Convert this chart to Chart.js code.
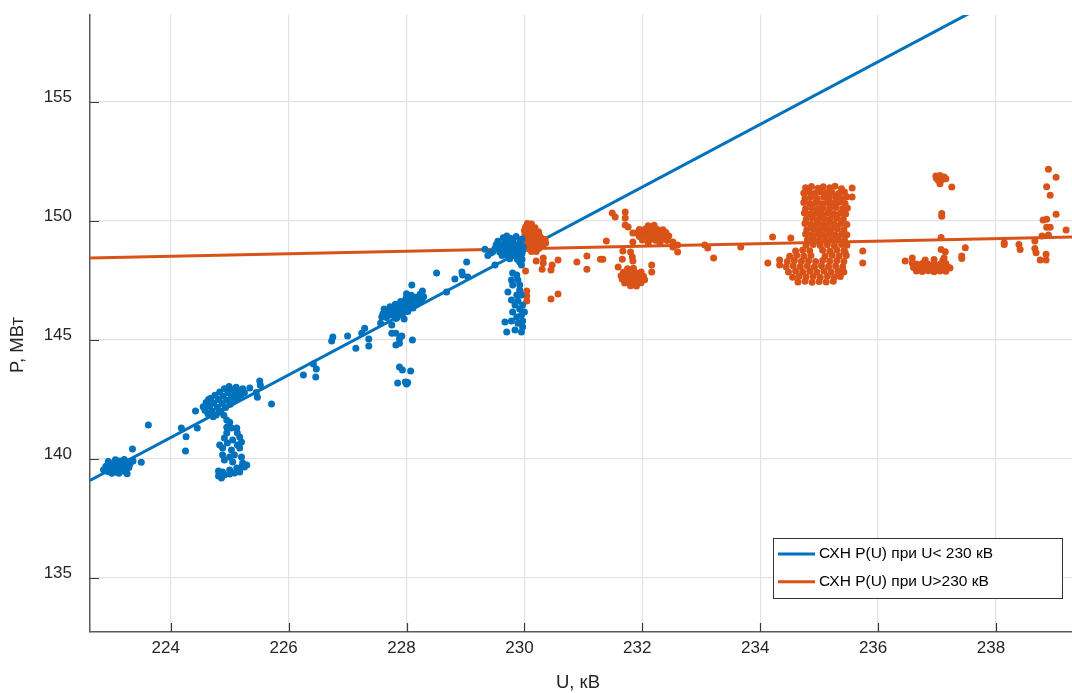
<!DOCTYPE html>
<html>
<head>
<meta charset="utf-8">
<script src="https://cdn.jsdelivr.net/npm/chart.js@4/dist/chart.umd.min.js"></script>
<style>
  html, body { margin: 0; padding: 0; background: #fff; }
  #wrap { width: 1072px; height: 693px; }
</style>
</head>
<body>
<div id="wrap"><canvas id="c" width="1072" height="693"></canvas></div>
<script>
// Measured operating points, U in kV, P in MW
const pointsBelow = [
  // ~223 kV
  [222.86,139.55],[222.9,139.7],[222.93,139.48],[222.96,139.62],[222.98,139.8],[223.01,139.55],[223.03,139.7],[223.05,139.88],
  [223.07,139.45],[223.09,139.62],[223.11,139.77],[223.13,139.92],[223.15,139.52],[223.17,139.66],[223.19,139.82],[223.21,139.98],
  [223.23,139.58],[223.25,139.72],[223.27,139.87],[223.29,139.64],[223.31,139.8],[223.0,139.4],[223.12,139.4],[223.22,139.47],
  [223.06,139.97],[222.94,139.9],[223.18,139.58],[223.36,139.92],[223.5,139.86],[223.35,140.42],[223.62,141.43],[223.26,139.38],
  [224.18,141.3],[224.26,140.94],[224.25,140.34],[224.42,142.02],[224.45,141.3],
  // ~225 kV
  [224.55,142.2],[224.58,142.05],[224.6,142.38],[224.63,141.9],[224.66,142.22],[224.68,142.55],[224.7,142.02],[224.73,142.35],
  [224.75,142.68],[224.77,141.85],[224.79,142.18],[224.81,142.5],[224.83,142.82],[224.85,142.02],[224.87,142.33],[224.89,142.64],
  [224.91,142.95],[224.93,142.16],[224.95,142.47],[224.97,142.78],[224.99,143.05],[225.01,142.3],[225.03,142.6],[225.05,142.9],
  [225.07,142.45],[225.09,142.74],[225.11,143.02],[225.13,142.58],[225.16,142.85],[225.19,142.68],[225.22,142.95],[225.25,142.78],
  [224.72,141.78],[224.82,141.98],[224.9,141.84],[224.64,142.5],
  [224.95,141.64],[225.0,141.55],[224.95,141.34],[225.03,141.3],[225.12,141.3],[224.95,141.09],[225.13,141.09],[224.91,140.88],
  [225.17,140.92],[225.05,140.8],[225.2,140.71],[224.83,140.59],[224.96,140.67],[225.13,140.59],[224.88,140.46],[225.03,140.38],
  [225.17,140.46],[224.88,140.17],[225.0,140.08],[225.08,140.17],[225.2,140.08],[224.91,139.96],[225.05,139.87],[225.22,139.83],
  [225.29,139.75],[225.2,139.66],[225.12,139.62],[225.0,139.54],[224.88,139.45],[224.81,139.5],[224.81,139.29],[224.91,139.33],
  [225.0,139.37],[225.08,139.41],[225.17,139.45],[225.25,139.66],[224.86,139.2],
  [225.51,143.28],[225.34,142.98],[225.47,142.6],[225.71,142.31],[225.52,143.1],[225.45,142.8],
  // 226-227 kV
  [226.25,143.53],[226.42,143.99],[226.47,143.78],[226.46,143.45],[226.73,144.96],[226.75,145.13],[227.0,145.17],[227.14,144.66],
  [227.29,145.5],[227.24,145.29],[227.36,145.04],[227.36,144.75],[227.56,145.71],[227.58,145.97],[227.75,145.63],[227.75,145.29],
  [227.82,145.29],[227.92,145.17],[227.88,145.04],[227.82,144.79],[227.88,144.87],[228.1,145.0],[227.88,143.87],[227.93,143.74],
  [228.07,143.7],[227.85,143.19],[227.98,143.24],[228.0,143.15],[228.02,143.22],
  // ~228 kV
  [228.51,147.82],[228.09,147.31],[228.27,147.06],[228.68,147.02],
  [227.6,146.1],[227.62,146.3],[227.66,145.95],[227.69,146.18],[227.72,146.4],[227.75,146.05],[227.78,146.27],[227.81,146.5],
  [227.84,145.95],[227.86,146.15],[227.88,146.38],[227.9,146.62],[227.93,146.05],[227.95,146.28],[227.97,146.5],[227.99,146.75],
  [228.02,146.2],[228.04,146.42],[228.06,146.65],[228.08,146.88],[228.11,146.35],[228.13,146.57],[228.15,146.8],[228.18,146.5],
  [228.2,146.72],[228.23,146.92],[228.26,146.65],[228.29,146.82],[227.96,145.88],[227.82,145.9],[228.0,146.95],
  // 229-230 kV
  [228.82,147.56],[228.94,147.86],[229.02,148.28],[228.95,147.73],[229.04,147.65],[229.43,148.66],[229.5,148.15],[229.7,149.37],
  [229.33,148.82],[229.38,148.55],
  [229.64,149.3],[229.76,149.28],[229.55,149.15],[229.67,149.14],[229.8,149.17],[229.92,149.12],[229.52,149.0],[229.62,148.98],
  [229.72,149.02],[229.83,148.99],[229.93,149.0],[229.98,148.92],[229.5,148.85],[229.6,148.84],[229.7,148.86],[229.8,148.82],
  [229.9,148.86],[229.97,148.78],[229.46,148.7],[229.58,148.7],[229.68,148.72],[229.78,148.68],[229.88,148.7],[229.96,148.64],
  [229.62,148.55],[229.72,148.56],[229.84,148.54],[229.94,148.5],[229.75,148.42],[229.88,148.4],[229.96,148.38],[229.86,149.35],
  [229.96,149.25],
  [229.92,148.28],[229.95,148.15],[229.8,147.82],[229.87,147.73],[229.78,147.52],[229.89,147.52],[229.8,147.31],[229.92,147.31],
  [229.92,147.1],[229.72,147.02],[229.87,146.89],[229.95,146.89],[229.78,146.68],[229.89,146.64],[229.84,146.47],[229.97,146.47],
  [229.92,146.3],[229.8,146.18],[230.0,146.18],[229.95,146.05],[229.87,145.97],[229.67,145.76],[229.78,145.8],[229.97,145.8],
  [229.89,145.71],[229.97,145.55],[229.7,145.34],[229.84,145.42],[229.95,145.34]
];

const pointsAbove = [
  // ~230 kV
  [230.05,149.9],[230.12,149.88],[230.02,149.75],[230.1,149.74],[230.18,149.72],[230.0,149.6],[230.08,149.58],[230.16,149.6],
  [230.24,149.55],[230.01,149.45],[230.08,149.44],[230.16,149.46],[230.25,149.4],[230.02,149.3],[230.1,149.3],[230.18,149.28],
  [230.28,149.3],[230.35,149.22],[230.0,149.15],[230.08,149.15],[230.16,149.13],[230.26,149.15],[230.36,149.08],[230.03,149.0],
  [230.12,149.0],[230.22,148.98],[230.32,149.0],[230.06,148.85],[230.15,148.84],[230.25,148.86],[230.12,148.72],[230.2,148.72],
  [230.2,148.32],[230.32,148.45],[230.32,148.24],[230.3,147.98],[230.47,148.15],[230.45,147.94],[230.57,148.36],[230.89,148.28],
  [231.06,148.53],[231.06,147.98],[231.29,148.4],[230.02,147.9],[230.04,147.06],[230.04,146.85],[230.04,146.64],[230.45,146.72],
  [230.57,146.93],[231.39,149.16],
  // ~232 kV
  [231.49,150.34],[231.54,150.17],[231.71,150.38],[231.71,150.13],[231.71,149.83],[231.76,149.75],[231.84,149.5],[231.84,149.12],
  [231.67,148.74],[231.8,148.7],[231.83,148.49],[231.84,148.32],[231.66,148.4],[231.59,148.07],[232.16,148.15],[232.16,147.86],
  [231.33,148.4],[232.52,149.12],[232.52,148.91],[232.6,148.99],[232.6,148.7],[233.06,148.99],[233.11,148.87],[233.21,148.45],
  [233.67,148.91],
  [232.1,149.8],[232.2,149.82],[231.95,149.65],[232.05,149.67],[232.15,149.63],[232.25,149.66],[232.35,149.64],[231.9,149.5],
  [232.0,149.52],[232.1,149.48],[232.2,149.51],[232.3,149.49],[232.4,149.52],[231.95,149.35],[232.05,149.37],[232.15,149.33],
  [232.25,149.36],[232.35,149.34],[232.45,149.37],[232.0,149.2],[232.12,149.22],[232.22,149.19],[232.32,149.21],[232.42,149.18],
  [232.1,149.08],[232.3,149.07],
  [231.75,148.0],[231.85,148.02],[231.68,147.85],[231.78,147.87],[231.88,147.84],[231.98,147.86],[231.64,147.7],[231.74,147.72],
  [231.84,147.69],[231.94,147.71],[232.02,147.68],[231.66,147.55],[231.76,147.57],[231.86,147.54],[231.96,147.56],[232.04,147.53],
  [231.7,147.4],[231.8,147.42],[231.9,147.39],[231.98,147.41],[231.8,147.28],[231.9,147.27],
  // ~235 kV
  [234.21,149.33],[234.52,149.29],[234.13,148.24],[234.33,148.36],[234.33,148.15],[235.74,148.74],[235.74,148.24],[235.56,151.39],
  [235.56,151.01],[235.44,148.7],
  [234.77,151.4],[234.87,151.45],[234.98,151.38],[235.07,151.44],[235.18,151.4],[235.27,151.46],[235.38,151.36],
  [234.74,151.18],[234.83,151.22],[234.93,151.17],[235.02,151.23],[235.12,151.19],[235.22,151.2],[235.33,151.16],[235.43,151.22],
  [234.76,150.96],[234.86,151.0],[234.97,150.95],[235.08,151.0],[235.17,150.97],[235.28,150.99],[235.38,150.95],[235.47,151.02],
  [234.74,150.78],[234.84,150.74],[234.94,150.77],[235.04,150.73],[235.14,150.78],[235.24,150.75],[235.34,150.79],[235.44,150.74],
  [234.77,150.52],[234.88,150.56],[234.98,150.51],[235.07,150.55],[235.18,150.53],[235.29,150.57],[235.4,150.52],[235.48,150.55],
  [234.75,150.34],[234.85,150.3],[234.95,150.33],[235.05,150.29],[235.15,150.34],[235.25,150.31],[235.36,150.33],[235.45,150.3],
  [234.78,150.08],[234.89,150.12],[234.99,150.07],[235.09,150.11],[235.19,150.09],[235.3,150.12],[235.41,150.08],
  [234.76,149.9],[234.86,149.86],[234.96,149.89],[235.06,149.85],[235.16,149.9],[235.26,149.87],[235.37,149.9],[235.47,149.86],
  [234.79,149.64],[234.9,149.68],[235.0,149.63],[235.1,149.67],[235.2,149.65],[235.31,149.68],[235.42,149.64],
  [234.77,149.46],[234.87,149.42],[234.97,149.45],[235.07,149.41],[235.17,149.46],[235.27,149.43],[235.38,149.45],[235.47,149.42],
  [234.8,149.2],[234.9,149.24],[235.0,149.19],[235.11,149.23],[235.21,149.21],[235.32,149.24],[235.43,149.2],
  [234.78,148.98],[234.9,149.02],[235.02,148.97],[235.14,149.0],[235.26,148.96],[235.38,149.01],[235.47,148.98],
  [234.6,148.74],[234.72,148.78],[234.84,148.75],[235.06,148.77],[235.18,148.74],[235.3,148.78],[235.42,148.75],
  [234.5,148.52],[234.62,148.56],[234.74,148.53],[234.86,148.55],[235.1,148.52],[235.22,148.56],[235.34,148.53],[235.46,148.55],
  [234.46,148.3],[234.58,148.34],[234.7,148.31],[234.82,148.33],[234.94,148.3],[235.06,148.34],[235.18,148.31],[235.3,148.33],
  [235.42,148.3],
  [234.44,148.08],[234.56,148.12],[234.68,148.09],[234.8,148.11],[234.92,148.08],[235.04,148.12],[235.16,148.09],[235.28,148.11],
  [235.4,148.08],
  [234.48,147.86],[234.6,147.9],[234.72,147.87],[234.84,147.89],[234.96,147.86],[235.08,147.9],[235.2,147.87],[235.32,147.89],
  [235.42,147.86],
  [234.55,147.64],[234.66,147.68],[234.78,147.65],[234.9,147.67],[235.02,147.64],[235.14,147.68],[235.26,147.65],[235.36,147.67],
  [234.64,147.44],[234.76,147.47],[234.88,147.43],[235.0,147.46],[235.12,147.44],[235.24,147.47],
  // ~237 kV
  [236.98,151.89],[237.05,151.91],[237.12,151.85],[237.02,151.72],[237.08,151.74],[237.15,151.78],[237.05,151.57],[237.25,151.43],
  [236.99,151.8],
  [237.08,150.32],[237.08,150.2],[237.07,149.31],[237.07,148.81],[237.14,148.71],[237.48,148.88],[237.42,148.53],[237.42,148.43],
  [236.46,148.32],[236.58,148.45],[236.58,148.24],
  [236.8,148.36],[236.95,148.38],[237.1,148.35],
  [236.65,148.2],[236.75,148.22],[236.85,148.19],[236.95,148.21],[237.05,148.18],[237.15,148.22],
  [236.6,148.05],[236.7,148.03],[236.8,148.06],[236.9,148.04],[237.0,148.07],[237.1,148.03],[237.2,148.05],
  [236.65,147.9],[236.75,147.88],[236.85,147.91],[236.95,147.87],[237.05,147.9],[237.15,147.89],
  [237.22,148.03],[237.12,148.45],
  // ~239 kV
  [238.14,149.09],[238.14,149.02],[238.39,149.02],[238.41,148.81],[238.66,149.16],[238.66,148.85],[238.68,148.67],[238.75,148.36],
  [238.85,148.36],[238.85,148.61],[238.78,149.37],[238.89,149.41],[238.8,150.04],[238.86,150.08],[239.02,150.29],[238.92,151.09],
  [238.86,151.44],[239.02,151.84],[238.89,152.18],[239.19,149.62],[238.92,149.74],[238.86,149.74]
];

// Static load characteristics P(U): end points of each fitted line
const fitBelowU = [222.63, 237.6];
const fitBelowP = [139.1, 158.8];
const fitAboveU = [222.63, 239.29];
const fitAboveP = [148.45, 149.33];

const legendLabels = ['СХН P(U) при U< 230 кВ', 'СХН P(U) при U>230 кВ'];
const axisTitleX = 'U, кВ';
const axisTitleY = 'P, МВт';

const xTicks = [224, 226, 228, 230, 232, 234, 236, 238];
const yTicks = [135, 140, 145, 150, 155];
const xRange = [222.63, 239.29];
const yRange = [132.73, 158.66];

const BLUE = '#0072BD';
const ORANGE = '#D95319';
const FONT = '"Liberation Sans", Arial, Helvetica, sans-serif';
const TEXT = '#262626';

const toXY = pts => pts.map(([x, y]) => ({ x, y }));
const lineXY = (us, ps) => us.map((u, i) => ({ x: u, y: ps[i] }));

// inward tick marks along the left and bottom axes
const innerTicks = {
  id: 'innerTicks',
  afterDraw(chart) {
    const { ctx, chartArea: a, scales } = chart;
    ctx.save();
    ctx.strokeStyle = '#3a3a3a';
    ctx.lineWidth = 1.2;
    ctx.beginPath();
    xTicks.forEach(v => {
      const px = Math.round(scales.x.getPixelForValue(v)) + 0.5;
      ctx.moveTo(px, a.bottom);
      ctx.lineTo(px, a.bottom - 9);
    });
    yTicks.forEach(v => {
      const py = Math.round(scales.y.getPixelForValue(v)) + 0.5;
      ctx.moveTo(a.left, py);
      ctx.lineTo(a.left + 9, py);
    });
    ctx.stroke();
    ctx.restore();
  }
};

// axis titles
const axisTitles = {
  id: 'axisTitles',
  afterDraw(chart) {
    const { ctx, chartArea: a } = chart;
    ctx.save();
    ctx.fillStyle = TEXT;
    ctx.font = '18.5px ' + FONT;
    ctx.textAlign = 'center';
    ctx.textBaseline = 'middle';
    ctx.fillText(axisTitleX, (a.left + a.right) / 2 - 3, 683);
    ctx.translate(18, 345);
    ctx.rotate(-Math.PI / 2);
    ctx.fillText(axisTitleY, 0, 0);
    ctx.restore();
  }
};

// boxed legend in the lower right corner of the plot
const legendBox = {
  id: 'legendBox',
  afterDraw(chart) {
    const { ctx, chartArea: a } = chart;
    const w = 289, h = 60;
    const x0 = a.right - 10 - w, y0 = a.bottom - 34 - h;
    ctx.save();
    ctx.fillStyle = '#fff';
    ctx.fillRect(x0, y0, w, h);
    ctx.strokeStyle = '#333';
    ctx.lineWidth = 1;
    ctx.strokeRect(x0 + 0.5, y0 + 0.5, w, h);
    const colors = [BLUE, ORANGE];
    ctx.font = '15.5px ' + FONT;
    ctx.textBaseline = 'middle';
    ctx.fillStyle = '#000';
    legendLabels.forEach((lab, i) => {
      const y = y0 + 16 + i * 27.7;
      ctx.strokeStyle = colors[i];
      ctx.lineWidth = 3;
      ctx.beginPath();
      ctx.moveTo(x0 + 5, y);
      ctx.lineTo(x0 + 42, y);
      ctx.stroke();
      ctx.fillText(lab, x0 + 46, y);
    });
    ctx.restore();
  }
};

// no extra room around the plot for the outermost tick labels
const noLabelPadding = s => {
  s.paddingTop = 0; s.paddingBottom = 0; s.paddingLeft = 0; s.paddingRight = 0;
};

new Chart(document.getElementById('c'), {
  type: 'scatter',
  data: {
    datasets: [
      { label: 'U<230', data: toXY(pointsBelow), backgroundColor: BLUE, borderWidth: 0, pointRadius: 3.5, order: 1 },
      { label: 'U>230', data: toXY(pointsAbove), backgroundColor: ORANGE, borderWidth: 0, pointRadius: 3.5, order: 1 },
      { label: legendLabels[0], data: lineXY(fitBelowU, fitBelowP), showLine: true, borderColor: BLUE, borderWidth: 3,
        pointRadius: 0, clip: 0, order: 2 },
      { label: legendLabels[1], data: lineXY(fitAboveU, fitAboveP), showLine: true, borderColor: ORANGE, borderWidth: 3,
        pointRadius: 0, clip: 0, order: 2 }
    ]
  },
  options: {
    responsive: false,
    animation: false,
    devicePixelRatio: 1,
    events: [],
    layout: { autoPadding: false, padding: { top: 15, right: 0, bottom: 0, left: 0 } },
    plugins: { legend: { display: false }, tooltip: { enabled: false } },
    scales: {
      x: {
        type: 'linear', min: xRange[0], max: xRange[1],
        afterBuildTicks: s => { s.ticks = xTicks.map(v => ({ value: v })); },
        afterFit: s => { s.height = 61; noLabelPadding(s); },
        grid: { color: '#e3e3e3', lineWidth: 1.2, drawTicks: false },
        border: { color: '#5a5a5a', width: 1.5 },
        ticks: { font: { family: FONT, size: 17 }, color: TEXT, padding: 6, labelOffset: -5 }
      },
      y: {
        type: 'linear', min: yRange[0], max: yRange[1],
        afterBuildTicks: s => { s.ticks = yTicks.map(v => ({ value: v })); },
        afterFit: s => { s.width = 90; noLabelPadding(s); },
        grid: { color: '#e3e3e3', lineWidth: 1.2, drawTicks: false },
        border: { color: '#5a5a5a', width: 1.5 },
        ticks: { font: { family: FONT, size: 17 }, color: TEXT, padding: 18, labelOffset: -5 }
      }
    }
  },
  plugins: [innerTicks, axisTitles, legendBox]
});
</script>
</body>
</html>
